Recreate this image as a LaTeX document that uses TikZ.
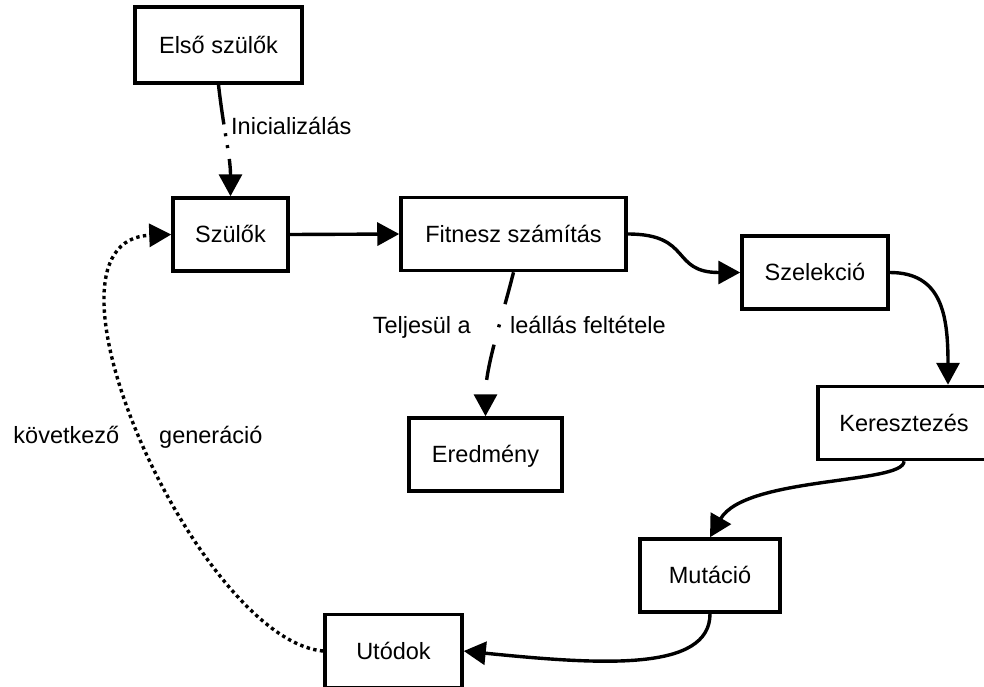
\documentclass[tikz,border=0pt]{standalone}
\usepackage{fontspec}
\setmainfont{Liberation Sans}
\usetikzlibrary{arrows.meta,calc}
\tikzset{
  txt/.style={font=\fontsize{23.5pt}{28pt}\selectfont},
  box/.style={txt, draw, line width=3.5pt, minimum width=#1, minimum height=73pt,
    inner sep=0pt, text height=16.8pt, text depth=0pt},
  lbl/.style={txt, inner sep=0pt},
  flow/.style={line width=3.4pt, -{Triangle[length=22pt,width=23pt]}},
  dotline/.style={dash pattern=on 3.4pt off 3.4pt},
}
\begin{document}
\begin{tikzpicture}[x=1pt,y=-1pt]
\fill[white] (0,0) rectangle (984,686);
\clip (0,0) rectangle (984,686);

% process boxes
\node[box=167pt, minimum height=76pt] (els) at (218.5,45) {Első szülők};
\node[box=115pt] (szul) at (230.5,234.5) {Szülők};
\node[box=225pt] (fit)  at (513.5,234) {Fitnesz számítás};
\node[box=153pt] (ered) at (485.5,454.5) {Eredmény};
\node[box=146pt] (sel)  at (815,272.5) {Szelekció};
\node[box=172pt] (ker)  at (904,423) {Keresztezés};
\node[box=140pt] (mut)  at (710,575.5) {Mutáció};
\node[box=137pt] (utod) at (393.5,651) {Utódok};

% initialisation
\draw[flow, dash pattern=on 40pt off 9pt on 3pt off 9pt on 3pt off 11pt on 80pt off 1pt]
  (els.south) .. controls ($(els.south)+(5,45)$) and ($(szul.north)+(0,-40)$) .. (szul.north);

% main loop
\draw[flow] (szul.east) -- (fit.west);
\draw[flow] (fit.east) .. controls ($(fit.east)+(65,0)$) and ($(sel.west)+(-70,0)$) .. (sel.west);
\coordinate (kerin) at ($(ker.north)+(44,0)$);
\draw[flow] (sel.east) .. controls ($(sel.east)+(52,0)$) and ($(kerin)+(0,-70)$) .. (kerin);
\draw[flow] (ker.south) .. controls ($(ker.south)+(0,23)$) and ($(mut.north)+(35,-61)$) .. (mut.north);
\draw[flow] (mut.south) .. controls ($(mut.south)+(0,58)$) and ($(utod.east)+(138,14)$) .. (utod.east);
\draw[flow, dotline] (utod.west) .. controls ($(utod.west)+(-125,-11)$) and ($(szul.west)+(-153,5.5)$) .. (szul.west);

% termination
\draw[flow, dash pattern=on 33pt off 21pt on 3pt off 18pt on 36pt off 40pt]
  (fit.south) .. controls ($(fit.south)+(-12,48)$) and ($(ered.north)+(0,-50)$) .. (ered.north);

% edge labels
\node[lbl, anchor=base west] (init)  at (231,134) {Inicializálás};
\node[lbl, anchor=base east] (stopa) at (471,333.5) {Teljesül a};
\node[lbl, anchor=base west] (stopb) at (510,333.5) {leállás feltétele};
\node[lbl, anchor=base east] (nexta) at (119.5,443.5) {következő};
\node[lbl, anchor=base west] (nextb) at (159,443.5) {generáció};
\end{tikzpicture}
\end{document}
